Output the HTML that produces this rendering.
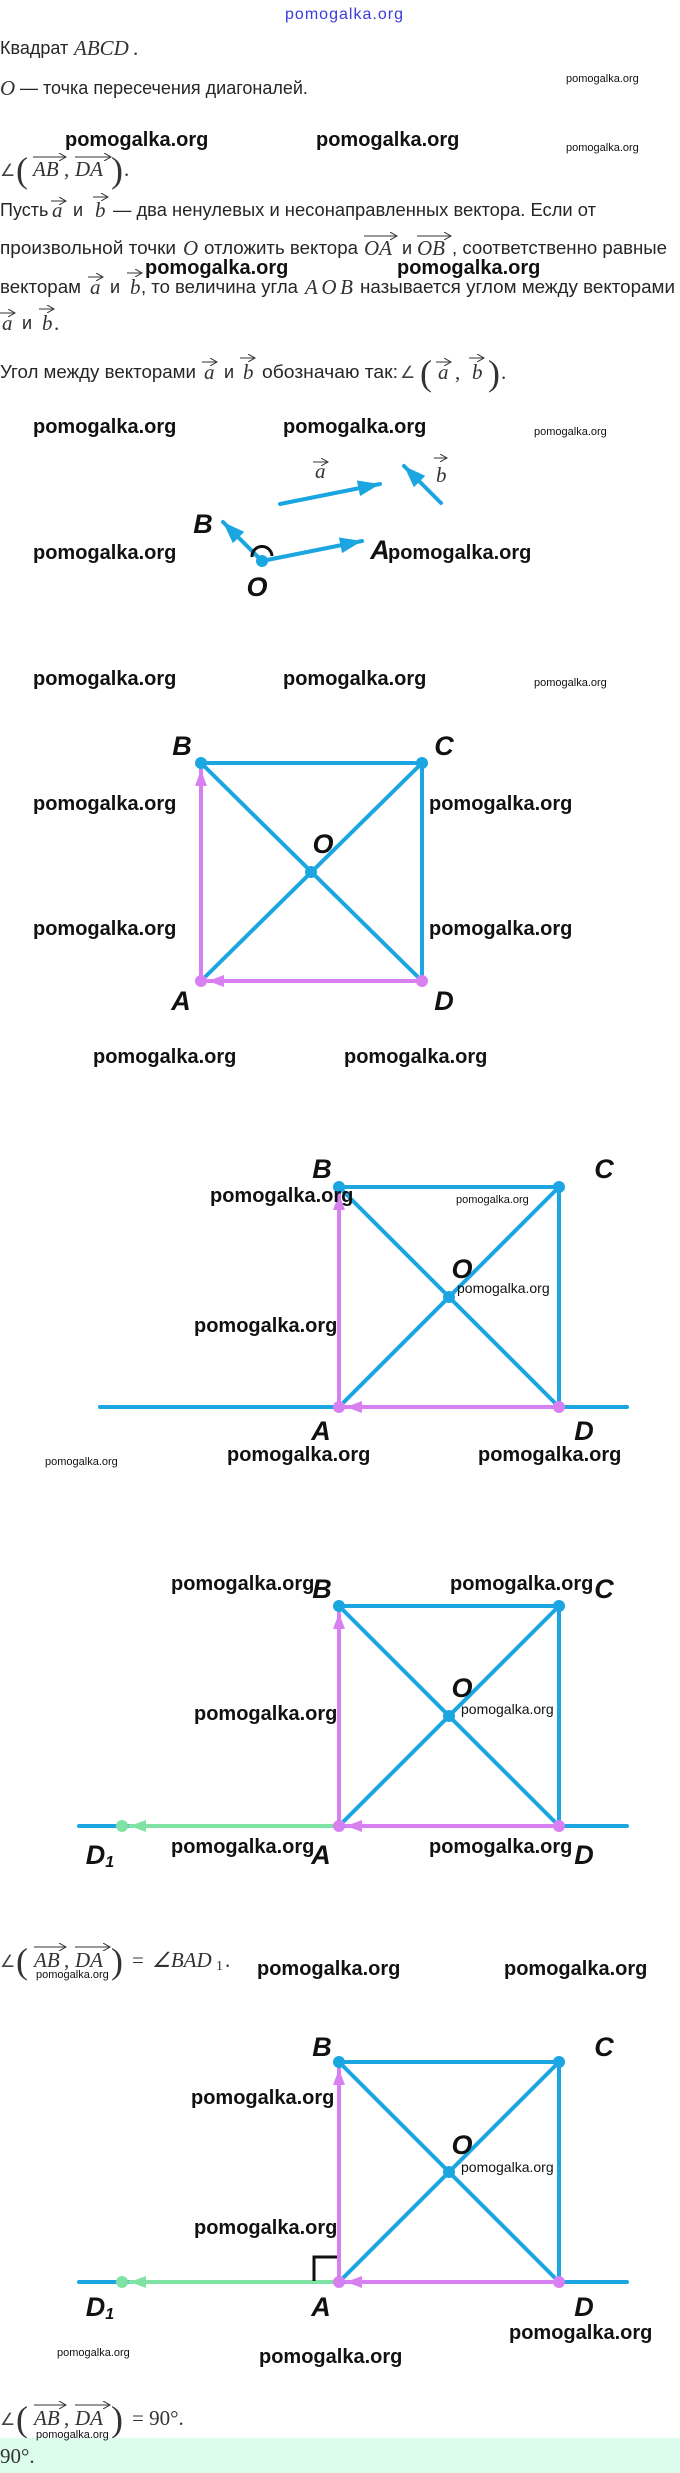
<!DOCTYPE html>
<html><head><meta charset="utf-8">
<style>
html,body{margin:0;padding:0;background:#fff;}
body{width:680px;height:2473px;position:relative;overflow:hidden;}
svg{position:absolute;left:0;top:0;}
.t{font-family:"Liberation Sans",sans-serif;font-size:18px;fill:#262626;}
.m{font-family:"Liberation Serif",serif;font-style:italic;font-size:21px;fill:#333;}
.mn{font-family:"Liberation Serif",serif;font-size:21px;fill:#333;}
.w{font-family:"Liberation Sans",sans-serif;font-weight:bold;font-size:20px;fill:#111;}
.ws{font-family:"Liberation Sans",sans-serif;font-size:11px;fill:#111;}
.wm{font-family:"Liberation Sans",sans-serif;font-size:14px;fill:#111;}
.L{font-family:"Liberation Sans",sans-serif;font-weight:bold;font-style:italic;font-size:27px;fill:#111;}
.p{font-family:"Liberation Serif",serif;font-size:36px;fill:#333;}
.ang{font-family:"DejaVu Sans",sans-serif;font-size:17px;fill:#444;}
</style></head><body>
<svg width="680" height="2473" viewBox="0 0 680 2473" xmlns="http://www.w3.org/2000/svg">
<defs>
<marker id="hb" markerUnits="userSpaceOnUse" markerWidth="24" markerHeight="16" refX="22" refY="8" orient="auto"><path d="M0,0 L22,8 L0,16 z" fill="#1ba6e2"/></marker>
<marker id="hp" markerUnits="userSpaceOnUse" markerWidth="18" markerHeight="12" refX="16" refY="6" orient="auto"><path d="M0,0 L16,6 L0,12 z" fill="#d880f2"/></marker>
<marker id="hg" markerUnits="userSpaceOnUse" markerWidth="18" markerHeight="12" refX="16" refY="6" orient="auto"><path d="M0,0 L16,6 L0,12 z" fill="#7fe3a3"/></marker>
<marker id="va" markerUnits="userSpaceOnUse" markerWidth="8" markerHeight="8" refX="7" refY="4" orient="auto"><path d="M0,0 L7,4 L0,8" fill="none" stroke="#333" stroke-width="1"/></marker>
</defs>

<text x="344" y="19" text-anchor="middle" font-family="Liberation Sans,sans-serif" font-size="16" fill="#3b3bdd" textLength="118">pomogalka.org</text>

<text class="t" x="0" y="54">Квадрат</text>
<text class="m" x="74" y="55">ABCD</text><text class="mn" x="133" y="55">.</text>
<text class="m" x="0" y="95">O</text>
<text class="t" x="20" y="94">— точка пересечения диагоналей.</text>

<!-- line 3 formula -->
<text class="ang" x="0" y="176">∠</text>
<text class="p" x="16" y="182">(</text>
<text class="m" x="33" y="176">AB</text><text class="mn" x="64" y="176">,</text>
<text class="m" x="75" y="176">DA</text>
<text class="p" x="111" y="182">)</text><text class="mn" x="124" y="176">.</text>
<line x1="33" y1="157" x2="66" y2="157" stroke="#333" stroke-width="1" marker-end="url(#va)"/>
<line x1="75" y1="157" x2="111" y2="157" stroke="#333" stroke-width="1" marker-end="url(#va)"/>

<text class="t" x="0" y="216">Пусть</text>
<text class="m" x="52" y="217">a</text>
<text class="t" x="73" y="216">и</text>
<text class="m" x="95" y="217">b</text>
<text class="t" x="113" y="216" textLength="483" lengthAdjust="spacingAndGlyphs">— два ненулевых и несонаправленных вектора. Если от</text>
<line x1="51" y1="201" x2="66" y2="201" stroke="#333" stroke-width="1" marker-end="url(#va)"/>
<line x1="93" y1="197" x2="108" y2="197" stroke="#333" stroke-width="1" marker-end="url(#va)"/>

<text class="t" x="0" y="254" textLength="176" lengthAdjust="spacingAndGlyphs">произвольной точки</text>
<text class="m" x="183" y="255">O</text>
<text class="t" x="204" y="254" textLength="154" lengthAdjust="spacingAndGlyphs">отложить вектора</text>
<text class="m" x="364" y="255">OA</text>
<text class="t" x="402" y="254">и</text>
<text class="m" x="417" y="255">OB</text>
<text class="t" x="452" y="254" textLength="215" lengthAdjust="spacingAndGlyphs">, соответственно равные</text>
<line x1="364" y1="236" x2="397" y2="236" stroke="#333" stroke-width="1" marker-end="url(#va)"/>
<line x1="417" y1="236" x2="451" y2="236" stroke="#333" stroke-width="1" marker-end="url(#va)"/>

<text class="t" x="0" y="293" textLength="81" lengthAdjust="spacingAndGlyphs">векторам</text>
<text class="m" x="90" y="294">a</text>
<text class="t" x="110" y="293">и</text>
<text class="m" x="130" y="294">b</text>
<text class="t" x="141" y="293" textLength="157" lengthAdjust="spacingAndGlyphs">, то величина угла</text>
<text class="m" x="305" y="294" textLength="48">AOB</text>
<text class="t" x="360" y="293" textLength="315" lengthAdjust="spacingAndGlyphs">называется углом между векторами</text>
<line x1="88" y1="277" x2="103" y2="277" stroke="#333" stroke-width="1" marker-end="url(#va)"/>
<line x1="127" y1="273" x2="142" y2="273" stroke="#333" stroke-width="1" marker-end="url(#va)"/>

<text class="m" x="2" y="330">a</text>
<text class="t" x="22" y="329">и</text>
<text class="m" x="42" y="330">b</text><text class="mn" x="54" y="330">.</text>
<line x1="0" y1="313" x2="15" y2="313" stroke="#333" stroke-width="1" marker-end="url(#va)"/>
<line x1="39" y1="309" x2="54" y2="309" stroke="#333" stroke-width="1" marker-end="url(#va)"/>

<text class="t" x="0" y="378" textLength="196" lengthAdjust="spacingAndGlyphs">Угол между векторами</text>
<text class="m" x="204" y="379">a</text>
<text class="t" x="224" y="378">и</text>
<text class="m" x="243" y="379">b</text>
<text class="t" x="262" y="378" textLength="136" lengthAdjust="spacingAndGlyphs">обозначаю так:</text>
<text class="ang" x="400" y="378">∠</text>
<text class="p" x="420" y="385">(</text>
<text class="m" x="438" y="379">a</text><text class="mn" x="455" y="379">,</text>
<text class="m" x="472" y="379">b</text>
<text class="p" x="488" y="385">)</text><text class="mn" x="501" y="379">.</text>
<line x1="202" y1="362" x2="217" y2="362" stroke="#333" stroke-width="1" marker-end="url(#va)"/>
<line x1="240" y1="358" x2="255" y2="358" stroke="#333" stroke-width="1" marker-end="url(#va)"/>
<line x1="436" y1="362" x2="451" y2="362" stroke="#333" stroke-width="1" marker-end="url(#va)"/>
<line x1="469" y1="358" x2="484" y2="358" stroke="#333" stroke-width="1" marker-end="url(#va)"/>

<!-- vector diagram -->
<g stroke="#1ba6e2" stroke-width="4" fill="none" stroke-linecap="round">
<line x1="280" y1="504" x2="380" y2="484" marker-end="url(#hb)"/>
<line x1="441" y1="503" x2="404" y2="466" marker-end="url(#hb)"/>
<line x1="262" y1="561" x2="223" y2="522" marker-end="url(#hb)"/>
<line x1="262" y1="561" x2="362" y2="541" marker-end="url(#hb)"/>
</g>
<circle cx="262" cy="561" r="6" fill="#1ba6e2"/>
<path d="M252,557 A10,10 0 0 1 272,556" fill="none" stroke="#111" stroke-width="3"/>
<text class="m" x="315" y="478">a</text>
<line x1="313" y1="462" x2="328" y2="462" stroke="#333" stroke-width="1" marker-end="url(#va)"/>
<text class="m" x="436" y="482">b</text>
<line x1="434" y1="458" x2="447" y2="458" stroke="#333" stroke-width="1" marker-end="url(#va)"/>
<text class="L" x="203" y="533" text-anchor="middle">B</text>
<text class="L" x="380" y="559" text-anchor="middle">A</text>
<text class="L" x="257" y="596" text-anchor="middle">O</text>

<!-- square 1 -->
<g stroke-width="4" stroke-linecap="round" fill="none">
<line x1="201" y1="763" x2="422" y2="763" stroke="#1ba6e2"/>
<line x1="422" y1="763" x2="422" y2="981" stroke="#1ba6e2"/>
<line x1="201" y1="763" x2="422" y2="981" stroke="#1ba6e2"/>
<line x1="201" y1="981" x2="422" y2="763" stroke="#1ba6e2"/>
<line x1="201" y1="981" x2="201" y2="770" stroke="#d880f2" marker-end="url(#hp)"/>
<line x1="422" y1="981" x2="208" y2="981" stroke="#d880f2" marker-end="url(#hp)"/>
</g>
<circle cx="201" cy="763" r="6" fill="#1ba6e2"/><circle cx="422" cy="763" r="6" fill="#1ba6e2"/>
<circle cx="311" cy="872" r="6" fill="#1ba6e2"/>
<circle cx="201" cy="981" r="6" fill="#d880f2"/><circle cx="422" cy="981" r="6" fill="#d880f2"/>
<text class="L" x="182" y="755" text-anchor="middle">B</text>
<text class="L" x="444" y="755" text-anchor="middle">C</text>
<text class="L" x="323" y="853" text-anchor="middle">O</text>
<text class="L" x="181" y="1010" text-anchor="middle">A</text>
<text class="L" x="444" y="1010" text-anchor="middle">D</text>

<!-- square 2 -->
<g stroke-width="4" stroke-linecap="round" fill="none">
<line x1="100" y1="1407" x2="627" y2="1407" stroke="#1ba6e2"/>
<line x1="339" y1="1187" x2="559" y2="1187" stroke="#1ba6e2"/>
<line x1="559" y1="1187" x2="559" y2="1407" stroke="#1ba6e2"/>
<line x1="339" y1="1187" x2="559" y2="1407" stroke="#1ba6e2"/>
<line x1="339" y1="1407" x2="559" y2="1187" stroke="#1ba6e2"/>
<line x1="339" y1="1407" x2="339" y2="1194" stroke="#d880f2" marker-end="url(#hp)"/>
<line x1="559" y1="1407" x2="346" y2="1407" stroke="#d880f2" marker-end="url(#hp)"/>
</g>
<circle cx="339" cy="1187" r="6" fill="#1ba6e2"/><circle cx="559" cy="1187" r="6" fill="#1ba6e2"/>
<circle cx="449" cy="1297" r="6" fill="#1ba6e2"/>
<circle cx="339" cy="1407" r="6" fill="#d880f2"/><circle cx="559" cy="1407" r="6" fill="#d880f2"/>
<text class="L" x="322" y="1178" text-anchor="middle">B</text>
<text class="L" x="604" y="1178" text-anchor="middle">C</text>
<text class="L" x="462" y="1278" text-anchor="middle">O</text>
<text class="L" x="321" y="1440" text-anchor="middle">A</text>
<text class="L" x="584" y="1440" text-anchor="middle">D</text>

<!-- square 3 -->
<g stroke-width="4" stroke-linecap="round" fill="none">
<line x1="79" y1="1826" x2="627" y2="1826" stroke="#1ba6e2"/>
<line x1="339" y1="1826" x2="130" y2="1826" stroke="#7fe3a3" marker-end="url(#hg)"/>
<line x1="339" y1="1606" x2="559" y2="1606" stroke="#1ba6e2"/>
<line x1="559" y1="1606" x2="559" y2="1826" stroke="#1ba6e2"/>
<line x1="339" y1="1606" x2="559" y2="1826" stroke="#1ba6e2"/>
<line x1="339" y1="1826" x2="559" y2="1606" stroke="#1ba6e2"/>
<line x1="339" y1="1826" x2="339" y2="1613" stroke="#d880f2" marker-end="url(#hp)"/>
<line x1="559" y1="1826" x2="346" y2="1826" stroke="#d880f2" marker-end="url(#hp)"/>
</g>
<circle cx="122" cy="1826" r="6" fill="#7fe3a3"/>
<circle cx="339" cy="1606" r="6" fill="#1ba6e2"/><circle cx="559" cy="1606" r="6" fill="#1ba6e2"/>
<circle cx="449" cy="1716" r="6" fill="#1ba6e2"/>
<circle cx="339" cy="1826" r="6" fill="#d880f2"/><circle cx="559" cy="1826" r="6" fill="#d880f2"/>
<text class="L" x="322" y="1598" text-anchor="middle">B</text>
<text class="L" x="604" y="1598" text-anchor="middle">C</text>
<text class="L" x="462" y="1697" text-anchor="middle">O</text>
<text class="L" x="321" y="1864" text-anchor="middle">A</text>
<text class="L" x="584" y="1864" text-anchor="middle">D</text>
<text class="L" x="100" y="1864" text-anchor="middle">D<tspan style="font-size:16px" dy="3">1</tspan></text>

<!-- formula 2 -->
<text class="ang" x="0" y="1967">∠</text>
<text class="p" x="16" y="1973">(</text>
<text class="m" x="34" y="1967">AB</text><text class="mn" x="64" y="1967">,</text>
<text class="m" x="75" y="1967">DA</text>
<text class="p" x="111" y="1973">)</text>
<text class="mn" x="132" y="1967">=</text>
<text class="m" x="152" y="1967">∠BAD</text><text class="mn" x="216" y="1970" style="font-size:14px">1</text><text class="mn" x="225" y="1967">.</text>
<line x1="34" y1="1947" x2="66" y2="1947" stroke="#333" stroke-width="1" marker-end="url(#va)"/>
<line x1="75" y1="1947" x2="110" y2="1947" stroke="#333" stroke-width="1" marker-end="url(#va)"/>

<!-- square 4 -->
<g stroke-width="4" stroke-linecap="round" fill="none">
<line x1="79" y1="2282" x2="627" y2="2282" stroke="#1ba6e2"/>
<line x1="339" y1="2282" x2="130" y2="2282" stroke="#7fe3a3" marker-end="url(#hg)"/>
<line x1="339" y1="2062" x2="559" y2="2062" stroke="#1ba6e2"/>
<line x1="559" y1="2062" x2="559" y2="2282" stroke="#1ba6e2"/>
<line x1="339" y1="2062" x2="559" y2="2282" stroke="#1ba6e2"/>
<line x1="339" y1="2282" x2="559" y2="2062" stroke="#1ba6e2"/>
<line x1="339" y1="2282" x2="339" y2="2069" stroke="#d880f2" marker-end="url(#hp)"/>
<line x1="559" y1="2282" x2="346" y2="2282" stroke="#d880f2" marker-end="url(#hp)"/>
</g>
<path d="M314,2281 V2257 H337" fill="none" stroke="#111" stroke-width="3"/>
<circle cx="122" cy="2282" r="6" fill="#7fe3a3"/>
<circle cx="339" cy="2062" r="6" fill="#1ba6e2"/><circle cx="559" cy="2062" r="6" fill="#1ba6e2"/>
<circle cx="449" cy="2172" r="6" fill="#1ba6e2"/>
<circle cx="339" cy="2282" r="6" fill="#d880f2"/><circle cx="559" cy="2282" r="6" fill="#d880f2"/>
<text class="L" x="322" y="2056" text-anchor="middle">B</text>
<text class="L" x="604" y="2056" text-anchor="middle">C</text>
<text class="L" x="462" y="2154" text-anchor="middle">O</text>
<text class="L" x="321" y="2316" text-anchor="middle">A</text>
<text class="L" x="584" y="2316" text-anchor="middle">D</text>
<text class="L" x="100" y="2316" text-anchor="middle">D<tspan style="font-size:16px" dy="3">1</tspan></text>

<!-- formula 3 -->
<text class="ang" x="0" y="2425">∠</text>
<text class="p" x="16" y="2431">(</text>
<text class="m" x="34" y="2425">AB</text><text class="mn" x="64" y="2425">,</text>
<text class="m" x="75" y="2425">DA</text>
<text class="p" x="111" y="2431">)</text>
<text class="mn" x="132" y="2425">= 90°.</text>
<line x1="34" y1="2405" x2="66" y2="2405" stroke="#333" stroke-width="1" marker-end="url(#va)"/>
<line x1="75" y1="2405" x2="110" y2="2405" stroke="#333" stroke-width="1" marker-end="url(#va)"/>

<rect x="0" y="2438" width="680" height="35" fill="#dcfcec"/>
<text class="mn" x="0" y="2463">90°.</text>

<text class="w" x="65" y="146">pomogalka.org</text><text class="w" x="316" y="146">pomogalka.org</text>
<text class="w" x="145" y="274">pomogalka.org</text><text class="w" x="397" y="274">pomogalka.org</text>
<text class="w" x="33" y="433">pomogalka.org</text><text class="w" x="283" y="433">pomogalka.org</text>
<text class="w" x="33" y="559">pomogalka.org</text><text class="w" x="388" y="559">pomogalka.org</text>
<text class="w" x="33" y="685">pomogalka.org</text><text class="w" x="283" y="685">pomogalka.org</text>
<text class="w" x="33" y="810">pomogalka.org</text><text class="w" x="429" y="810">pomogalka.org</text>
<text class="w" x="33" y="935">pomogalka.org</text><text class="w" x="429" y="935">pomogalka.org</text>
<text class="w" x="93" y="1063">pomogalka.org</text><text class="w" x="344" y="1063">pomogalka.org</text>
<text class="w" x="210" y="1202">pomogalka.org</text>
<text class="w" x="194" y="1332">pomogalka.org</text>
<text class="w" x="227" y="1461">pomogalka.org</text><text class="w" x="478" y="1461">pomogalka.org</text>
<text class="w" x="171" y="1590">pomogalka.org</text><text class="w" x="450" y="1590">pomogalka.org</text>
<text class="w" x="194" y="1720">pomogalka.org</text>
<text class="w" x="171" y="1853">pomogalka.org</text><text class="w" x="429" y="1853">pomogalka.org</text>
<text class="w" x="257" y="1975">pomogalka.org</text><text class="w" x="504" y="1975">pomogalka.org</text>
<text class="w" x="191" y="2104">pomogalka.org</text>
<text class="w" x="194" y="2234">pomogalka.org</text>
<text class="w" x="509" y="2339">pomogalka.org</text>
<text class="w" x="259" y="2363">pomogalka.org</text>

<text class="ws" x="566" y="82">pomogalka.org</text>
<text class="ws" x="566" y="151">pomogalka.org</text>
<text class="ws" x="534" y="435">pomogalka.org</text>
<text class="ws" x="534" y="686">pomogalka.org</text>
<text class="ws" x="456" y="1203">pomogalka.org</text>
<text class="ws" x="45" y="1465">pomogalka.org</text>
<text class="ws" x="57" y="2356">pomogalka.org</text>
<text class="ws" x="36" y="1978">pomogalka.org</text>
<text class="ws" x="36" y="2438">pomogalka.org</text>
<text class="wm" x="457" y="1293">pomogalka.org</text>
<text class="wm" x="461" y="1714">pomogalka.org</text>
<text class="wm" x="461" y="2172">pomogalka.org</text>
</svg>
</body></html>
